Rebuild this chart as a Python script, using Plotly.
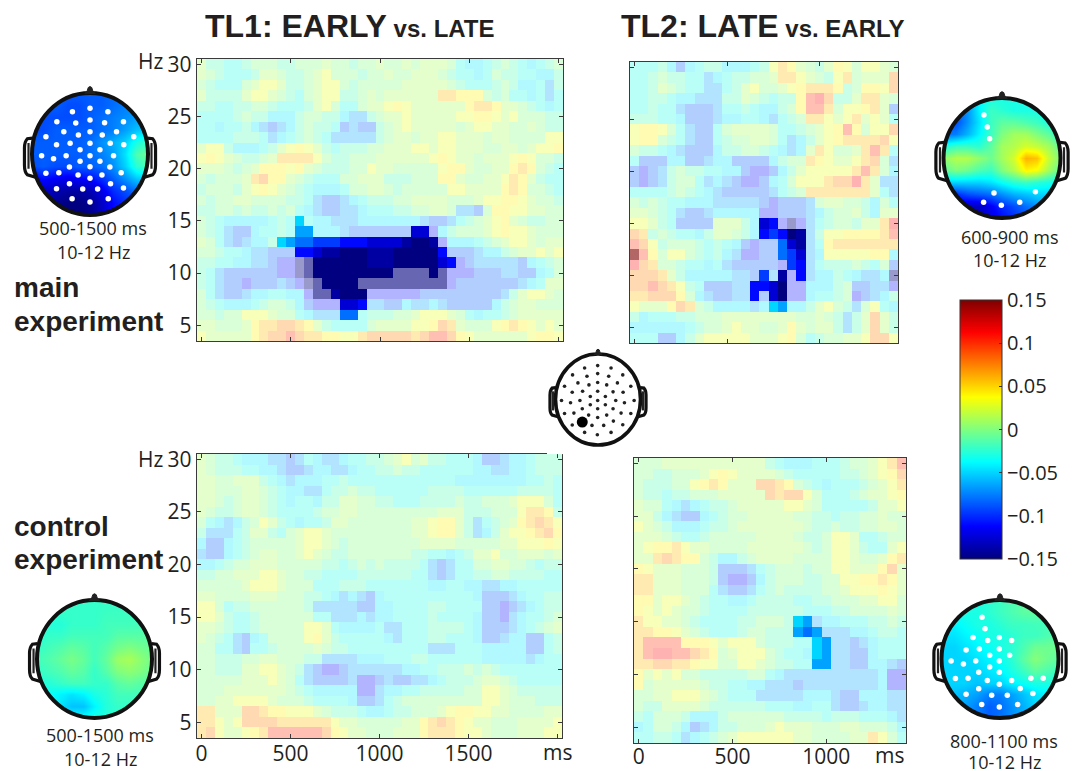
import plotly.graph_objects as go

W, H = 1073, 771
HZ = list(range(30, 3, -1))
TIME_LONG = list(range(0, 2001, 50))
TIME_SHORT = list(range(0, 1401, 50))

# value per cell letter: lowercase = faded (not significant), uppercase = opaque (significant)
LEVELS = {"a": -0.11, "b": -0.085, "c": -0.065, "d": -0.045, "e": -0.03, "f": -0.015, "g": 0.0,
          "h": 0.012, "i": 0.03, "j": 0.042, "k": 0.057, "l": 0.075, "m": 0.10, "n": 0.112,
          "Z": -0.15, "Y": -0.14, "X": -0.125, "W": -0.11, "V": -0.095, "U": -0.08, "T": -0.065, "S": -0.05,
          "1": -0.15, "2": -0.15, "3": 0.15}

TL1_MAIN = [
"hffeefgggf fggghggfgg hgghghhhge ddefgfedef g",
"hgfeeefhhg ffghigggfg ghgghhhgfe edegffeedd f",
"gfeeeghiih ffghiigfgg ggghhhhhgf eeefgfddec f",
"hffffhiihg feghiiffgh ghhhhhhkkj jjgfgeedec e",
"ffeeffggfe eefhigeegh hijihhhhhh jkkjhhgfed e",
"eeeefgffdd dfggffdccf ghhihhhhhi ijjihigggf f",
"eedeefdcbc dfgffebcbb fghihhhhhg hiihhgghgf f",
"eeeefffecd efgfeccccc fghhghhiih hhghhggggi i",
"hiifdddefh ijihfefffg ghhhiihiih hhgghhghii j",
"ijihgffghk kkkigffggg hhhhhhijih hghhhijigg f",
"hhhgfghjjj ijhgfffggi hhgggggijj hgghhjkjgf e",
"gfggghkljj hgfeeegghh hfffgggjjh gghhikjhfe e",
"fgggfhijih gfedddeggh hgfgggggii hhhhjkjggf e",
"gfgghhgggg ffecbbcdef ffgghhhhgg ghiijjihgg f",
"ffggfgffgf gedcbbccde eeffgghhgc cbgjjiihhg g",
"gfedddddef eSeddcccdd dddddcbbce fghijhgffg g",
"gfecbbdeef eTTdddcbbb bbbbXXadfg gghijiihgg g",
"hgecbcddfS TUUVVVWWWX XXXYZZYadd defghiihgh h",
"ggfeedccbb bWWXYYZZZY YYZZZZZWbb bcddfghhih i",
"ffeeddccba a21ZZZZZZY YYZZZZZXWa bcccccbdef g",
"fecbbbbbba a21ZZZZZZZ ZZ1111Z1aa abbbccbbde g",
"fecbbabbbc ba21ZZZZ11 11111111ab bbbbbbcdeh h",
"gecbbcddee dda11YZZZa aaaaabbbbb bbbbcfhiih g",
"gfedddefgg fdbaaaXXWc cbbdccdcbb bbbdfghhgg g",
"ggfggiiihg gedcccUUef ffgghiiihg edeefghhhh h",
"hhggghjkkl lkjhfeeeeg hhhhiijlkh gggijkjihi h",
"ihhhhhjkll mlkkjjiikl llllklmmlj ihhhhhhijj i",
]

TL2_MAIN = [
"eeefdbdeff dddefikjhg fhjigiihg",
"eefgffeecd effgghkkih gfikghhhl",
"eefhgfeecc efhigghijk kkjfgjjil",
"eeffeddccc ffhgfeffjm nlffhkkhg",
"eefeecbbbc eefeddfgjm mkgiijkhb",
"fffeedbbbc ddeedcefgk kihikhihe",
"ijjigecbbe ghhhhgeefg hijmjgiil",
"ijjgfecbbe fgghhgecdf hijkkkkli",
"gffedcbbbd ffggfedcdh kigghkmke",
"ebbbddbbcd dbbbbdfggk jihhiklgc",
"babcfgffee ddbaabdfhi iiiikmkgd",
"babcfggecd cbaabdegii ikllnkhcc",
"eeeefgfedc bbbbbcefgk kkkkkkhec",
"gfgfeedddc ccccbabbbc ghhggfdge",
"hhgfecbbcd ddddaabbbc dfgghfdhh",
"iihfebbbbh hhfdXWa2ac efggfhhkn",
"lkfgfeedfh hgfdWVWZYc fiijjjjkm",
"mlifgggfef edbabbUXYc ejkkkkkkk",
"3mjgiigfef dcaabbUVXc diiiiijjd",
"nlkggfeede cbbbbbaVWc efffgfegb",
"lllkhfdddd dccbVcYaWc ddfedccd2",
"llmlkifebb bccWWXZaad ddfgbbcca",
"kkllljgdcb bccWbXZaad eefgabcdf",
"ihhhjlkgfd dddcdSTddf higfcgied",
"fdeeeffggg hhhhhhhhgg hgfcfhlhf",
"ddddddefgg hihhgghjhg hhfcfhlhf",
"eeebbdfhii iiihhhijge fgghhilli",
]

TL1_CONTROL = [
"hgffedddcc bcedccdeef fghighffee edbbcddeff f",
"hgfffeeddc bbcddccdee ffgffeeeee eddccddeff f",
"hhgghhhfed cdddeefeee eeeeeeeeed dddddddeef e",
"hhggghhgfe ddcceffgff eeeeeeffff eeeeeeffff e",
"hhgfghhgfe deedffhhgg ffeeeffffg ffggghiiig e",
"hgffghhgfe eeefgghhgg ggggggghhh fffgggikkj f",
"gedcdfgihf edeefhhggg gggghhijjh fcefghjklk i",
"fcccefhhfe ghiihggggg gggghhijjh fcdfhiijkl j",
"dbbdefgggg ghiihgfggg ggggghhhhg gggghhiiij i",
"cbbdefghhg ghihgffggg ggggffeede fhhigghhhg h",
"ddefgghhhg ggggffefgf gffffecbce egghhggfef f",
"ffgghhhiih ggffeeeeff ffffeecbce effggffffe e",
"ggggghiiih gggeeefffe eeeeeeddee ddccddeeee e",
"hhgggghhhg ggffedcdcb deeeeeeeee edbbbcdeef f",
"iigeffgggg ggfcccccbb ddeeeeffee eebbabcdef f",
"iihfeefggg gggeecccdc ddeeeefeee edbbacdeef g",
"hhgfeefggg ggiihedddd ecceeeffff edbbbcdefg h",
"hgfecbdegg ggijhfeeee edceeeffee edbbcddbbe f",
"ggeecbeefg ggghgffeee eeeeeeccce eedddddbbe f",
"ggfffgghhg ggffccccdd deeeffeeee eedddddcde e",
"ggfffhhiih gfcbaabccc cccddeefff gfgfeeeeee e",
"ggggghhhih gecbbbbcaa bcbbccdeff fghhgfeeee e",
"ggghhhhhhh gfedddddaa cddeefffff ggiihgffff f",
"gghhiiiihg ggfeeeedbb cefggggggg ggiihgggff f",
"kkhhhllkjj iiihgfffed deffggghij jiihhggggh h",
"kkihillllk kkkkkihhgg ggghhjklkj ihhggghhhh i",
"klihhijkmm mmmmljihhg gghhhjkkkj iihggghhhi i",
]

TL2_CONTROL = [
"ggghhhhhhh hhhhfeddde eefgghikm",
"ggffggghij ihhhhgfeee eeffghijl",
"gfffggijkj hhhllkjgfe deeefghik",
"gffeffgggh hhhhlkllig eeefghhij",
"hggedcdeff ghhhhhiihg eeeeefhhi",
"hhfdcbbdef gghhhhhggf feffgghgg",
"ihgfdddeff ghhhhhhhgf fgffgghhg",
"hhhgfeefgg ggghhhhgff giiheefgg",
"hijjkihhgg gghhhhhhgf giihfeehi",
"hhklkjjgfd dfghhhhggg giihgghjk",
"jihhhgggfb bbcefgggfg giihhhjlh",
"kkhhhgggfb aabdfgggff ggiijjkjh",
"kkhhhgggec bbcefgffff gghiiijih",
"jjhiihgfee ddeffffeef fggghhiig",
"jihihggfee eeffffffee effgggghg",
"kiihhgfeee effgggfSTc ddeeeffgf",
"kkjjihgfee efggfffTUT cccddeffe",
"kmmmmjjjih iiigfffeeS Tccbcdeee",
"kmnnmmlkjg hiiigfeedS Tccbbdeee",
"kkllkkjiig giihgffeeT Tccbbddcb",
"jhihiggfff ffggedcccc ccccccdaa",
"jghhhhhgff eeddcccbcc ccccccdaa",
"gghhiiihgf eeecccccdd dcbbdddcc",
"gffhhhhgff ffffeeedde ecbbcddcc",
"fegggfdddf ggggggffff efffeeedc",
"deggfdbcdf fggghihhhg gghhgggfd",
"eeffecdefg hiiiiiihhg ggghhkige",
]

TOPO_AXIS = [-1, -0.8, -0.6, -0.4, -0.2, 0, 0.2, 0.4, 0.6, 0.8, 1]

TOPO_MAIN_TL1 = [
[-.085,-.085,-.085,-.085,-.085,-.085,-.085,-.08,-.075,-.075,-.075],
[-.085,-.085,-.085,-.09,-.09,-.085,-.085,-.08,-.075,-.075,-.075],
[-.09,-.09,-.09,-.09,-.09,-.085,-.08,-.075,-.07,-.065,-.065],
[-.09,-.09,-.085,-.085,-.085,-.085,-.08,-.075,-.065,-.055,-.05],
[-.085,-.085,-.085,-.085,-.085,-.08,-.07,-.06,-.05,-.03,-.02],
[-.085,-.085,-.085,-.085,-.085,-.08,-.075,-.065,-.045,-.015,-.005],
[-.09,-.085,-.09,-.09,-.085,-.085,-.08,-.07,-.05,-.025,-.015],
[-.115,-.11,-.115,-.12,-.115,-.11,-.10,-.085,-.07,-.055,-.05],
[-.13,-.13,-.135,-.14,-.14,-.135,-.12,-.10,-.09,-.08,-.08],
[-.13,-.14,-.145,-.15,-.15,-.145,-.13,-.11,-.10,-.09,-.09],
[-.14,-.14,-.145,-.15,-.15,-.145,-.13,-.11,-.10,-.09,-.09],
]
TOPO_MAIN_TL2 = [
[-.08,-.08,-.06,-.04,-.03,-.03,-.03,-.03,-.03,-.03,-.03],
[-.09,-.09,-.07,-.04,-.02,-.025,-.03,-.03,-.03,-.04,-.04],
[-.09,-.09,-.07,-.045,-.02,-.01,-.01,-.015,-.02,-.03,-.04],
[-.08,-.075,-.06,-.04,-.02,0,.01,.01,0,-.01,-.03],
[-.03,-.02,-.02,-.025,-.01,.01,.015,.025,.02,.01,-.01],
[.005,.015,.015,.005,-.005,.01,.025,.06,.055,.02,0],
[-.01,0,-.005,-.015,-.02,0,.015,.04,.035,.01,-.01],
[-.05,-.05,-.05,-.05,-.045,-.035,-.025,-.02,-.025,-.03,-.035],
[-.1,-.1,-.09,-.085,-.08,-.07,-.06,-.055,-.05,-.05,-.05],
[-.12,-.125,-.13,-.13,-.115,-.1,-.09,-.08,-.07,-.065,-.06],
[-.12,-.125,-.13,-.13,-.12,-.11,-.1,-.09,-.08,-.07,-.06],
]
TOPO_CONTROL_TL1 = [
[-.022,-.022,-.022,-.022,-.022,-.022,-.022,-.022,-.022,-.022,-.022],
[-.022,-.022,-.022,-.022,-.022,-.022,-.02,-.02,-.02,-.02,-.02],
[-.027,-.027,-.027,-.022,-.022,-.022,-.018,-.018,-.018,-.018,-.018],
[-.027,-.022,-.022,-.018,-.018,-.018,-.018,-.012,-.012,-.012,-.012],
[-.022,-.018,-.014,-.009,-.012,-.018,-.012,-.004,.0,-.004,-.008],
[-.018,-.014,-.008,-.002,-.008,-.018,-.008,.008,.012,.004,-.004],
[-.022,-.018,-.014,-.008,-.012,-.022,-.012,.0,.004,.0,-.008],
[-.027,-.027,-.022,-.018,-.018,-.022,-.022,-.012,-.008,-.012,-.012],
[-.03,-.035,-.04,-.045,-.04,-.03,-.025,-.018,-.018,-.018,-.018],
[-.03,-.035,-.045,-.055,-.055,-.04,-.027,-.022,-.022,-.022,-.022],
[-.025,-.03,-.035,-.035,-.035,-.03,-.027,-.022,-.022,-.022,-.022],
]
TOPO_CONTROL_TL2 = [
[-.03,-.03,-.03,-.03,-.025,-.02,-.015,-.01,-.01,-.01,-.01],
[-.035,-.035,-.03,-.03,-.025,-.02,-.015,-.01,-.01,-.012,-.012],
[-.04,-.04,-.035,-.03,-.03,-.025,-.02,-.02,-.018,-.018,-.018],
[-.045,-.045,-.04,-.035,-.03,-.03,-.025,-.02,-.02,-.015,-.012],
[-.05,-.05,-.045,-.04,-.035,-.03,-.025,-.015,-.005,-.005,-.005],
[-.05,-.05,-.05,-.045,-.04,-.035,-.025,-.01,.002,-.005,-.01],
[-.05,-.05,-.05,-.05,-.045,-.04,-.03,-.02,-.01,-.015,-.02],
[-.05,-.05,-.05,-.055,-.05,-.05,-.04,-.035,-.03,-.03,-.03],
[-.05,-.055,-.06,-.065,-.075,-.075,-.065,-.055,-.045,-.04,-.035],
[-.05,-.055,-.065,-.075,-.085,-.08,-.07,-.06,-.05,-.04,-.035],
[-.05,-.055,-.065,-.075,-.085,-.08,-.07,-.06,-.05,-.04,-.035],
]

# electrode positions, normalised per head further down
E1_RAW = [(240,85),(187,95),(294,95),(140,125),(197,129),(240,120),(284,128),(341,125),(161,155),(205,165),
(240,155),(277,165),(320,155),(107,170),(372,170),(139,194),(180,190),(240,190),(301,190),(342,194),(210,209),(270,209),
(94,227),(130,236),(168,227),(240,227),(311,227),(210,244),(270,244),(107,280),(146,278),(178,261),(240,260),(300,261),
(334,278),(204,285),(240,295),(276,285),(139,326),(178,311),(218,327),(263,327),(302,311),(341,324),(186,356),(295,356),(240,366)]
E2_RAW = [(176,76),(186,112),(193,147),(206,310),(330,306),(175,338),(228,347),(283,338)]
E4_RAW = [(170,81),(179,116),(143,142),(187,151),(222,142),(259,151),(122,180),(162,177),(222,177),(193,196),(253,196),
(77,213),(114,222),(151,213),(222,213),(193,231),(160,247),(222,247),(90,266),(128,265),(186,272),(222,283),(259,272),
(317,265),(354,265),(285,296),(160,297),(122,313),(199,316),(246,316),(323,311),(169,344),(222,352),(277,344)]
E5_RAW = [(150,83),(189,76),(229,83),(114,104),(157,108),(189,100),(222,108),(264,104),(130,128),(163,134),(189,127),
(216,134),(248,128),(90,138),(288,138),(113,156),(144,153),(189,153),(235,155),(265,156),(167,169),(212,169),(81,181),
(108,188),(136,181),(189,181),(243,181),(269,188),(298,181),(167,194),(212,194),(143,206),(189,206),(235,206),(90,220),
(118,219),(162,225),(189,232),(216,225),(259,219),(288,220),(236,243),(172,256),(207,256),(113,255),(264,254),(150,277),
(188,284),(229,277)]
E5_MARK = [(143,246)]

JET = [[0, "rgb(0,0,128)"], [.125, "rgb(0,0,255)"], [.375, "rgb(0,255,255)"],
       [.625, "rgb(255,255,0)"], [.875, "rgb(255,0,0)"], [1, "rgb(128,0,0)"]]
INK = "#231f20"
AXC = "#3a3a3a"
TICK_FONT = dict(family="Open Sans", size=21, color=INK)

fig = go.Figure()
n_ax = [0]
annots, shapes = [], []


def new_axes(left, right, top, bottom, xa, ya):
    n_ax[0] += 1
    i = n_ax[0]
    s = "" if i == 1 else str(i)
    fig.layout["xaxis" + s] = dict(domain=[left / W, right / W], anchor="y" + s, **xa)
    fig.layout["yaxis" + s] = dict(domain=[1 - bottom / H, 1 - top / H], anchor="x" + s, **ya)
    return "x" + s, "y" + s


def panel(rows, times, box, xticks, standoff=0):
    t_max = times[-1]
    xa = dict(range=[-25, t_max + 25], tickvals=[v for v in range(0, t_max + 1, 500)],
              ticktext=xticks, ticks="inside", ticklen=4, tickwidth=1.3, tickcolor=AXC, showline=True,
              linecolor=AXC, linewidth=1.4, mirror="ticks", showgrid=False, zeroline=False, tickfont=TICK_FONT,
              ticklabelstandoff=standoff)
    show_y = box[0] < 300
    ya = dict(range=[3.5, 30.5], tickvals=[5, 10, 15, 20, 25, 30], ticks="inside", ticklen=4, tickwidth=1.3,
              tickcolor=AXC, showline=True, linecolor=AXC, linewidth=1.4, mirror="ticks", showgrid=False,
              zeroline=False, showticklabels=show_y, tickfont=TICK_FONT)
    xr, yr = new_axes(*box, xa, ya)
    grid = [r.replace(" ", "") for r in rows]
    for alpha, test in ((0.3, str.islower), (0.6, lambda c: c in "13"), (0.4, lambda c: c == "2"),
                        (1.0, lambda c: c.isupper())):
        z = [[LEVELS[c] if test(c) else None for c in r] for r in grid]
        fig.add_trace(go.Heatmap(x=times, y=HZ, z=z, coloraxis="coloraxis", opacity=alpha, xaxis=xr, yaxis=yr,
                                 hoverinfo="skip"))


panel(TL1_MAIN, TIME_LONG, (197, 563, 59, 341), [""] * 5)
panel(TL2_MAIN, TIME_SHORT, (630, 898, 62, 343), [""] * 3)
panel(TL1_CONTROL, TIME_LONG, (197, 562, 454, 738), ["0", "500", "1000", "1500", ""], standoff=-3)
panel(TL2_CONTROL, TIME_SHORT, (634, 906, 458, 743), ["0", "500", "1000"], standoff=-5)

K = 0.5523
PAD = 1.2
CIRCLE = ("M1,0 C1,{k} {k},1 0,1 C-{k},1 -1,{k} -1,0 C-1,-{k} -{k},-1 0,-1 C{k},-1 1,-{k} 1,0 Z").format(k=K)
MASK = "M-1.18,-1.18 L1.18,-1.18 L1.18,1.18 L-1.18,1.18 Z " + CIRCLE


def head(cx, cy, rx, ry, topo=None, points=None, zoom_c=None, zoom_r=None, color="white", size=5.5, big=None, lw=4):
    xr, yr = new_axes(cx - PAD * rx, cx + PAD * rx, cy - PAD * ry, cy + PAD * ry,
                      dict(range=[-PAD, PAD], visible=False), dict(range=[-PAD, PAD], visible=False))
    if topo is not None:
        fig.add_trace(go.Heatmap(x=TOPO_AXIS, y=TOPO_AXIS[::-1], z=topo, coloraxis="coloraxis", zsmooth="best",
                                 xaxis=xr, yaxis=yr, hoverinfo="skip"))
    ref = dict(xref=xr, yref=yr)
    shapes.append(dict(type="path", path=MASK, fillcolor="white", line_width=0, **ref))
    shapes.append(dict(type="circle", x0=-1, x1=1, y0=-1, y1=1, line=dict(color="#111", width=lw), **ref))
    shapes.append(dict(type="path", path="M-0.09,0.99 Q-0.04,1.02 -0.03,1.09 Q0,1.12 0.03,1.09 Q0.04,1.02 0.09,0.99 Z",
                       fillcolor="#222", line=dict(color="#222", width=1), **ref))
    for sgn in (-1, 1):
        p = ("M{a},0.26 L{b},0.25 Q{c},0.2 {c},0.1 L{c},-0.18 Q{c},-0.3 {b},-0.34 L{d},-0.38"
             ).format(a=sgn * 0.99, b=sgn * 1.08, c=sgn * 1.13, d=sgn * 0.94)
        shapes.append(dict(type="path", path=p, line=dict(color="#111", width=3.2), **ref))
        p2 = "M{a},0.18 L{a},-0.24".format(a=sgn * 1.06)
        shapes.append(dict(type="path", path=p2, line=dict(color="#222", width=2.2), **ref))
    if points:
        fig.add_trace(go.Scatter(x=[(p[0] - zoom_c[0]) / zoom_r[0] for p in points],
                                 y=[(zoom_c[1] - p[1]) / zoom_r[1] for p in points],
                                 mode="markers", marker=dict(color=color, size=size), xaxis=xr, yaxis=yr,
                                 hoverinfo="skip", showlegend=False))
    if big:
        fig.add_trace(go.Scatter(x=[(p[0] - zoom_c[0]) / zoom_r[0] for p in big],
                                 y=[(zoom_c[1] - p[1]) / zoom_r[1] for p in big],
                                 mode="markers", marker=dict(color="black", size=11), xaxis=xr, yaxis=yr,
                                 hoverinfo="skip", showlegend=False))


head(90, 154, 58, 61, TOPO_MAIN_TL1, E1_RAW, (240, 222), (175, 183))
head(1002, 158, 58.5, 60, TOPO_MAIN_TL2, E2_RAW, (230, 205), (175, 180))
head(94.5, 659, 57.5, 59, TOPO_CONTROL_TL1)
head(1000, 659, 58.5, 59, TOPO_CONTROL_TL2, E4_RAW, (224, 207), (176, 178))
head(598, 399.5, 42.5, 45.5, None, E5_RAW, (190, 178), (127, 137), color="#222", size=3.6, big=E5_MARK, lw=3.6)


def text(x, y, s, size, anchor="left", family="Open Sans", color=INK):
    annots.append(dict(x=x / W, y=1 - y / H, xref="paper", yref="paper", text=s, showarrow=False, xanchor=anchor,
                       yanchor="middle", font=dict(family=family, size=size, color=color), borderpad=0, borderwidth=0))


ARIAL = "Liberation Sans"
text(205, 26, '<b>TL1: EARLY</b><b><span style="font-size:24px"> vs. LATE</span></b>', 32, family=ARIAL)
text(621, 26, '<b>TL2: LATE</b><b><span style="font-size:24px"> vs. EARLY</span></b>', 32, family=ARIAL)
text(14, 287, "<b>main</b>", 28, family=ARIAL)
text(14, 321, "<b>experiment</b>", 28, family=ARIAL)
text(14, 526, "<b>control</b>", 28, family=ARIAL)
text(14, 559, "<b>experiment</b>", 28, family=ARIAL)
text(138, 61, "Hz", 21)
text(138, 459, "Hz", 21)
text(543, 752, "ms", 21)
text(875, 755, "ms", 21)
text(93, 228, "500-1500 ms", 18, "center")
text(93, 252, "10-12 Hz", 18, "center")
text(1009, 237, "600-900 ms", 18, "center")
text(1009, 260, "10-12 Hz", 18, "center")
text(100, 735, "500-1500 ms", 18, "center")
text(100, 759, "10-12 Hz", 18, "center")
text(1004, 741, "800-1100 ms", 18, "center")
text(1004, 762, "10-12 Hz", 18, "center")

CB_TICKS = [-0.15, -0.1, -0.05, 0, 0.05, 0.1, 0.15]
CB_TEXT = ["\u22120.15", "\u22120.1", "\u22120.05", "0", "0.05", "0.1", "0.15"]

fig.update_layout(
    width=W, height=H, margin=dict(l=0, r=0, t=0, b=0, autoexpand=False), paper_bgcolor="white", plot_bgcolor="white",
    showlegend=False, annotations=annots, shapes=shapes,
    coloraxis=dict(cmin=-0.15, cmax=0.15, colorscale=JET,
                   colorbar=dict(x=960 / W, xanchor="left", y=1 - 429.5 / H, yanchor="middle", thicknessmode="pixels",
                                 thickness=42, lenmode="pixels", len=259, xpad=0, ypad=0, tickvals=CB_TICKS,
                                 ticktext=CB_TEXT, ticks="inside", ticklen=3, tickcolor="#333", outlinecolor="#333",
                                 outlinewidth=1, tickfont=dict(family="Open Sans", size=20, color=INK))),
)

fig.write_html("out.html", config={"displayModeBar": False}, post_script="document.body.style.margin='0';")
